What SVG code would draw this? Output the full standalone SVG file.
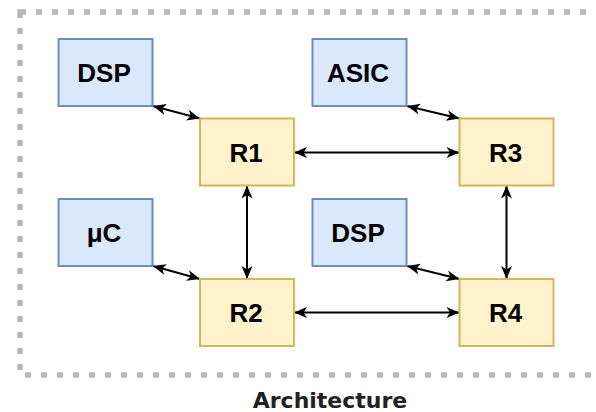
<svg xmlns="http://www.w3.org/2000/svg" width="596" height="412" viewBox="0 0 596 412">
<style>
.blue{fill:#dae8fc;stroke:#6c8ebf;stroke-width:2}
.yel{fill:#fff2cc;stroke:#d6b656;stroke-width:2}
.lbl{font-family:"Liberation Sans",Arial,sans-serif;font-weight:bold;font-size:26px;fill:#000;text-anchor:middle}
.edge{stroke:#000;stroke-width:2;fill:none;marker-start:url(#arr);marker-end:url(#arr)}
</style>
<defs>
<marker id="arr" markerUnits="userSpaceOnUse" markerWidth="15" markerHeight="12" viewBox="0 0 15 12" refX="14" refY="6" orient="auto-start-reverse">
<path d="M14,6 L1,0.5 L4.5,6 L1,11.5 Z" fill="#000"/>
</marker>
</defs>
<rect x="20" y="12" width="600" height="363" fill="none" stroke="#b8b8b8" stroke-width="5.5" stroke-dasharray="6 10"/>
<g id="connectors">
<line class="edge" x1="153" y1="106" x2="200" y2="118.5"/>
<line class="edge" x1="407" y1="106" x2="459.5" y2="118.5"/>
<line class="edge" x1="153" y1="266" x2="200" y2="279"/>
<line class="edge" x1="407" y1="266" x2="459.5" y2="279"/>
<line class="edge" x1="294" y1="152.5" x2="459.5" y2="152.5"/>
<line class="edge" x1="294" y1="312.5" x2="459.5" y2="312.5"/>
<line class="edge" x1="247" y1="185.5" x2="247" y2="279"/>
<line class="edge" x1="506.5" y1="185.5" x2="506.5" y2="279"/>
</g>
<g id="dsp1"><rect class="blue" x="58.5" y="39" width="94" height="67"/><text class="lbl" x="104" y="81.5">DSP</text></g>
<g id="asic"><rect class="blue" x="312.5" y="39" width="94" height="67"/><text class="lbl" x="358" y="81.5">ASIC</text></g>
<g id="uc"><rect class="blue" x="58.5" y="199" width="94" height="67"/><text class="lbl" x="104" y="241.5">μC</text></g>
<g id="dsp2"><rect class="blue" x="312.5" y="199" width="94" height="67"/><text class="lbl" x="358" y="241.5">DSP</text></g>
<g id="r1"><rect class="yel" x="200" y="118.5" width="94" height="67"/><text class="lbl" x="246" y="161.5">R1</text></g>
<g id="r3"><rect class="yel" x="459.5" y="118.5" width="94" height="67"/><text class="lbl" x="505.5" y="161.5">R3</text></g>
<g id="r2"><rect class="yel" x="200" y="279" width="94" height="67"/><text class="lbl" x="246" y="322">R2</text></g>
<g id="r4"><rect class="yel" x="459.5" y="279" width="94" height="67"/><text class="lbl" x="505.5" y="322">R4</text></g>
<text x="330" y="407.5" font-family="DejaVu Sans,Verdana,sans-serif" font-weight="bold" font-size="22" fill="#222" text-anchor="middle">Architecture</text>
</svg>
